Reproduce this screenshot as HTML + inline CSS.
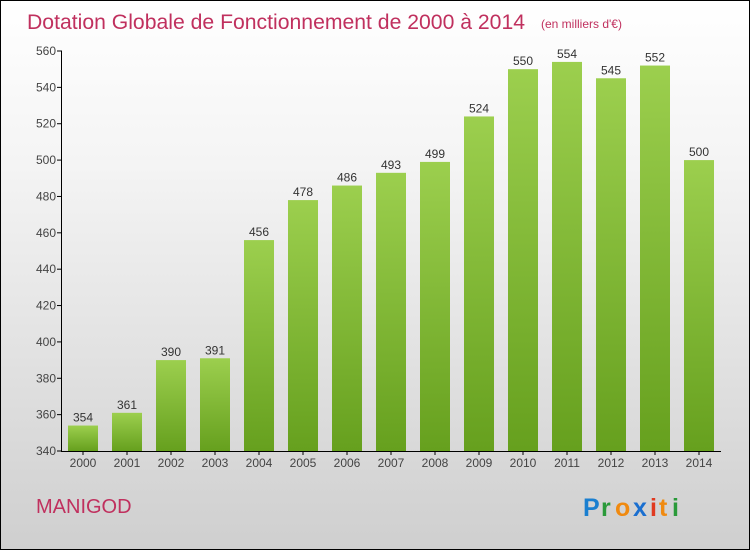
<!DOCTYPE html>
<html><head><meta charset="utf-8"><style>
body{margin:0}
#c{width:748px;height:548px;border:1px solid #000;background:linear-gradient(#ffffff,#f4f4f4 30%,#cfcfcf);position:relative;font-family:"Liberation Sans",sans-serif;overflow:hidden}
text{font-family:"Liberation Sans",sans-serif}
</style></head><body>
<div id="c">
<svg id="s" width="748" height="548">
<defs><linearGradient id="g" x1="0" y1="0" x2="0" y2="1"><stop offset="0" stop-color="#9ccf4e"/><stop offset="1" stop-color="#66a01e"/></linearGradient></defs>
<text x="26" y="28" font-size="21" fill="#c0305e" textLength="498" lengthAdjust="spacingAndGlyphs">Dotation Globale de Fonctionnement de 2000 à 2014</text>
<text x="540" y="27" font-size="12" fill="#c0305e">(en milliers d'€)</text>
<text x="35" y="512" font-size="20" fill="#c0305e">MANIGOD</text>
<g font-size="25" font-weight="bold">
<text x="582" y="515" fill="#1a7fd0">P</text><text x="600" y="515" fill="#2a9a3a">r</text><text x="614" y="515" fill="#f08a10">o</text><text x="632" y="515" fill="#1a6fd0">x</text><text x="649" y="515" fill="#e03a20">i</text><text x="658" y="515" fill="#f08a10">t</text><text x="671" y="515" fill="#2a9a3a">i</text>
</g>
</svg>
</div>
<script>
const years=["2000","2001","2002","2003","2004","2005","2006","2007","2008","2009","2010","2011","2012","2013","2014"];
const values=[354,361,390,391,456,478,486,493,499,524,550,554,545,552,500];
const yTicks=[340,360,380,400,420,440,460,480,500,520,540,560];
const NS="http://www.w3.org/2000/svg",s=document.getElementById('s');
const y=v=>450-(v-340)*400/220, x=i=>82+i*44;
function el(t,a,txt){const e=document.createElementNS(NS,t);for(const k in a)e.setAttribute(k,a[k]);if(txt!=null)e.textContent=txt;s.appendChild(e);return e;}
yTicks.forEach(v=>{
 const t=el('text',{x:55,y:y(v)+4,'font-size':12,fill:'#444','text-anchor':'end'},v);
 
 
 el('line',{x1:56,x2:61,y1:y(v),y2:y(v),stroke:'#000'});
});
values.forEach((v,i)=>{
 const r=el('rect',{x:x(i)-15,y:y(v),width:30,height:450-y(v),fill:'url(#g)'});
 
 
 const t=el('text',{x:x(i),y:y(v)-4,'font-size':12,fill:'#333','text-anchor':'middle'},v);
 
 
 const l=el('text',{x:x(i),y:466,'font-size':12,fill:'#444','text-anchor':'middle'},years[i]);
 
 
 el('line',{x1:x(i),x2:x(i),y1:450,y2:454,stroke:'#000'});
});
const ya=el('line',{x1:60.5,x2:60.5,y1:50,y2:450,stroke:'#000'});


const xa=el('line',{x1:60,x2:720,y1:450.5,y2:450.5,stroke:'#000'});


</script>
</body></html>
